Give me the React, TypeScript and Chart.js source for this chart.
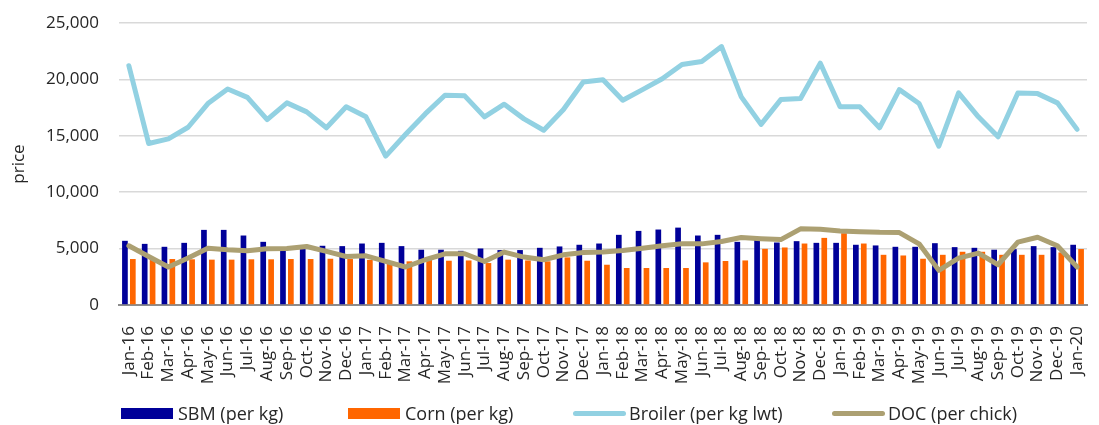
import React, { useEffect, useRef } from "react";
import { Chart, registerables } from "chart.js";

Chart.register(...registerables);

const months: string[] = [
  "Jan-16","Feb-16","Mar-16","Apr-16","May-16","Jun-16","Jul-16","Aug-16","Sep-16","Oct-16","Nov-16","Dec-16",
  "Jan-17","Feb-17","Mar-17","Apr-17","May-17","Jun-17","Jul-17","Aug-17","Sep-17","Oct-17","Nov-17","Dec-17",
  "Jan-18","Feb-18","Mar-18","Apr-18","May-18","Jun-18","Jul-18","Aug-18","Sep-18","Oct-18","Nov-18","Dec-18",
  "Jan-19","Feb-19","Mar-19","Apr-19","May-19","Jun-19","Jul-19","Aug-19","Sep-19","Oct-19","Nov-19","Dec-19",
  "Jan-20",
];

const sbm: number[] = [
  5690, 5420, 5160, 5510, 6660, 6660, 6160, 5600, 4950, 5000, 5250, 5220,
  5450, 5510, 5220, 4900, 4900, 4800, 5010, 4870, 4870, 5070, 5190, 5340,
  5450, 6220, 6570, 6690, 6860, 6160, 6220, 5600, 5780, 5540, 5660, 5510,
  5510, 5340, 5280, 5160, 5160, 5480, 5130, 5070, 4900, 4950, 5220, 5130,
  5340,
];

const corn: number[] = [
  4075, 4075, 4075, 4050, 4020, 4020, 4050, 4050, 4075, 4075, 4100, 4075,
  4000, 3900, 3870, 4020, 3925, 3950, 3720, 4020, 3950, 3870, 4220, 3925,
  3570, 3280, 3280, 3280, 3280, 3780, 3900, 3950, 4980, 5100, 5450, 5950,
  6370, 5450, 4450, 4390, 4100, 4450, 4720, 4720, 4450, 4450, 4450, 4660,
  4960,
];

const broiler: number[] = [
  21210, 14320, 14730, 15760, 17860, 19150, 18410, 16440, 17920, 17120, 15710, 17570,
  16680, 13200, 15110, 16940, 18590, 18540, 16680, 17800, 16500, 15490, 17330, 19770,
  19970, 18150, 19090, 20060, 21320, 21590, 22910, 18450, 16010, 18210, 18300, 21440,
  17570, 17570, 15710, 19090, 17860, 14080, 18800, 16680, 14910, 18800, 18740, 17920,
  15570,
];

const doc: number[] = [
  5250, 4300, 3370, 4160, 5040, 4900, 4800, 4980, 5000, 5190, 4750, 4300,
  4360, 3860, 3370, 4010, 4540, 4540, 3860, 4690, 4250, 4010, 4450, 4660,
  4690, 4830, 5040, 5250, 5420, 5420, 5630, 5980, 5880, 5800, 6750, 6720,
  6570, 6500, 6440, 6420, 5420, 3070, 4160, 4600, 3570, 5570, 6010, 5250,
  3370,
];

const yTicks: number[] = [0, 5000, 10000, 15000, 20000, 25000];

const COLORS = {
  sbm: "#000099",
  corn: "#FF6600",
  broiler: "#92D1E2",
  doc: "#ACA072",
  text: "#262626",
  grid: "#D9D9D9",
  axis: "#8C8C8C",
};

const FONT = "'Open Sans', 'Noto Sans', sans-serif";

const legendItems = [
  { label: "SBM (per kg)", color: COLORS.sbm, kind: "box", left: 121 },
  { label: "Corn (per kg)", color: COLORS.corn, kind: "box", left: 348 },
  { label: "Broiler (per kg lwt)", color: COLORS.broiler, kind: "line", left: 573 },
  { label: "DOC (per chick)", color: COLORS.doc, kind: "line", left: 832 },
];

export default function App() {
  const canvasRef = useRef<HTMLCanvasElement | null>(null);

  useEffect(() => {
    const canvas = canvasRef.current;
    if (!canvas) return;
    const chart = new Chart(canvas, {
      type: "bar",
      data: {
        labels: months,
        datasets: [
          {
            type: "line",
            label: "Broiler (per kg lwt)",
            data: broiler,
            borderColor: COLORS.broiler,
            backgroundColor: COLORS.broiler,
            borderWidth: 5,
            pointRadius: 0,
            tension: 0,
            borderCapStyle: "round",
            borderJoinStyle: "round",
            order: 0,
          } as any,
          {
            type: "line",
            label: "DOC (per chick)",
            data: doc,
            borderColor: COLORS.doc,
            backgroundColor: COLORS.doc,
            borderWidth: 5,
            pointRadius: 0,
            tension: 0,
            borderCapStyle: "round",
            borderJoinStyle: "round",
            order: 1,
          } as any,
          {
            type: "bar",
            label: "SBM (per kg)",
            data: sbm,
            backgroundColor: COLORS.sbm,
            categoryPercentage: 0.8,
            barPercentage: 0.72,
            order: 2,
          },
          {
            type: "bar",
            label: "Corn (per kg)",
            data: corn,
            backgroundColor: COLORS.corn,
            categoryPercentage: 0.8,
            barPercentage: 0.72,
            order: 2,
          },
        ],
      },
      options: {
        responsive: false,
        animation: false,
        devicePixelRatio: 1,
        layout: { padding: { left: 0, top: 23, right: 12, bottom: 0 } },
        plugins: {
          legend: { display: false },
          tooltip: { enabled: false },
        },
        scales: {
          x: {
            offset: true,
            grid: { display: false },
            border: { display: true, color: COLORS.axis, width: 2 },
            ticks: {
              autoSkip: false,
              minRotation: 90,
              maxRotation: 90,
              padding: 13,
              color: COLORS.text,
              font: { family: FONT, size: 17 },
            },
            afterFit: (s: any) => {
              s.height = 120;
              s.paddingLeft = 0;
              s.paddingRight = 0;
            },
          },
          y: {
            min: 0,
            max: 25000,
            afterBuildTicks: (s: any) => {
              s.ticks = yTicks.map((v) => ({ value: v }));
            },
            grid: {
              drawTicks: false,
              lineWidth: 1.5,
              color: (ctx: any) => (ctx.tick && ctx.tick.value === 0 ? "rgba(0,0,0,0)" : COLORS.grid),
            },
            border: { display: false },
            ticks: {
              padding: 20,
              color: COLORS.text,
              font: { family: FONT, size: 17 },
              callback: (v: any) => Number(v).toLocaleString("en-US"),
            },
            title: {
              display: true,
              text: "price",
              color: COLORS.text,
              font: { family: FONT, size: 17 },
              padding: { top: 9, bottom: 0 },
            },
            afterFit: (s: any) => {
              s.width = 119;
              s.paddingTop = 0;
              s.paddingBottom = 0;
            },
          },
        },
      },
    });
    return () => chart.destroy();
  }, []);

  return (
    <div style={{ position: "absolute", left: 0, top: 0, width: 1099, height: 425, background: "#fff" }}>
      <canvas ref={canvasRef} width={1099} height={425} style={{ display: "block" }} />
      {legendItems.map((it) => (
        <div
          key={it.label}
          style={{
            position: "absolute",
            left: it.left,
            top: 401,
            height: 24,
            display: "flex",
            alignItems: "center",
            fontFamily: FONT,
            fontSize: 18,
            color: COLORS.text,
            whiteSpace: "nowrap",
          }}
        >
          {it.kind === "box" ? (
            <span style={{ display: "inline-block", width: 52, height: 11, background: it.color }} />
          ) : (
            <span style={{ display: "inline-block", width: 53, height: 5, borderRadius: 3, background: it.color }} />
          )}
          <span style={{ marginLeft: it.kind === "box" ? 5 : 3 }}>{it.label}</span>
        </div>
      ))}
    </div>
  );
}
